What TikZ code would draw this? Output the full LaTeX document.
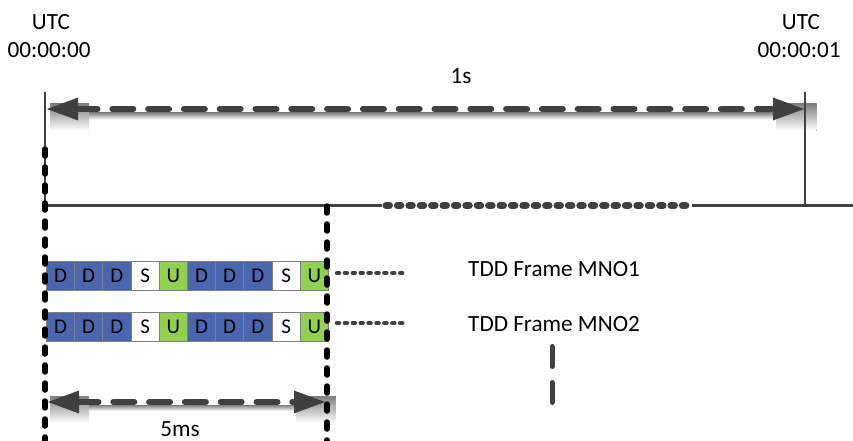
\documentclass[tikz,border=0pt]{standalone}
\usepackage{fontspec}
\setmainfont{Carlito}
\usetikzlibrary{arrows.meta}
\definecolor{axis}{HTML}{404040}
\definecolor{shade}{HTML}{C8C8C8}
\definecolor{dlslot}{HTML}{4A66AE}
\definecolor{ulslot}{HTML}{92D050}
\definecolor{cellrule}{HTML}{7F7F7F}

\begin{document}
\begin{tikzpicture}[x=1pt,y=-1pt,
  lbl/.style={font=\fontsize{23.2}{27}\selectfont, anchor=base, inner sep=0pt},
  lblleft/.style={lbl, anchor=base west},
  slot/.style={draw=cellrule, line width=0.8pt, minimum width=28.2pt,
    minimum height=29pt, inner sep=0pt, anchor=north west,
    font=\fontsize{21}{24}\selectfont},
  slotD/.style={slot, fill=dlslot},
  slotS/.style={slot, fill=white},
  slotU/.style={slot, fill=ulslot},
  axisline/.style={axis, line width=2.5pt},
  axisdots/.style={axis, line width=7pt, line cap=round, dash pattern=on 3.5pt off 7.9pt},
  framedots/.style={axis, line width=4.5pt, line cap=round, dash pattern=on 2pt off 5.9pt},
  boundary/.style={black, line width=5.5pt, line cap=round, dash pattern=on 7pt off 11pt},
  span/.style={axis, line width=6pt, line cap=round, dash pattern=on 21pt off 14.8pt,
    {Triangle[length=32pt,width=21pt]}-{Triangle[length=32pt,width=21pt]}},
  tick/.style={axis, line width=5pt, line cap=round},
]
\useasboundingbox (0,0) rectangle (853,441);

% key points of the time axis
\coordinate (t0top) at (45,92);
\coordinate (t0) at (45,205.5);
\coordinate (t1top) at (805,92);
\coordinate (t1) at (805,205.5);
\coordinate (axend) at (853,205.5);
\coordinate (gap0) at (382,205.5);
\coordinate (dot0) at (386,205.5);
\coordinate (dot1) at (688,205.5);
\coordinate (gap1) at (692,205.5);

% labels
\node[lbl] (utc0) at (51,30) {UTC};
\node[lbl] (time0) at (49,58) {00:00:00};
\node[lbl] (utc1) at (801,30) {UTC};
\node[lbl] (time1) at (799,58) {00:00:01};
\node[lbl] (onesec) at (461,84) {1s};

% soft shading under the 1 s span
\fill[shade] (50,104) rectangle (89,130.7);
\fill[shade] (776.7,104) rectangle (816.7,130.7);
\fill[shade] (89,112.5) rectangle (776.7,119.5);

% soft shading under the 5 ms span
\fill[shade] (50,396) rectangle (89,423);
\fill[shade] (296.7,396) rectangle (335.7,423);
\fill[shade] (89,405) rectangle (296.7,411);

% time axis
\draw[axisline] (t0top) -- (t0);
\draw[axisline] (t1top) -- (t1);
\draw[axisline] (t0) -- (gap0);
\draw[axisdots] (dot0) -- (dot1);
\draw[axisline] (gap1) -- (axend);

% 1 s span
\coordinate (s0) at (46,109);
\coordinate (s1) at (805,109);
\draw[span] (s0) -- (s1);

% two TDD frames of ten slots each
\foreach \r/\y in {1/261,2/312}{
  \foreach \k/\t [count=\i from 0] in {D/D,D/D,D/D,S/S,U/U,D/D,D/D,D/D,S/S,U/U}{
    \node[slot\k] (r\r c\i) at ({46+28.2*\i},\y) {\t};
  }
}

% frames continue
\coordinate (f1a) at (337,273);
\coordinate (f1b) at (404,273);
\coordinate (f2a) at (337,323);
\coordinate (f2b) at (404,323);
\draw[framedots] (f1a) -- (f1b);
\draw[framedots] (f2a) -- (f2b);

\node[lblleft] (mno1) at (468,276.7) {TDD Frame MNO1};
\node[lblleft] (mno2) at (468,331.7) {TDD Frame MNO2};

% more operators below
\coordinate (v0) at (552,346.5);
\coordinate (v1) at (552,366.5);
\coordinate (v2) at (552,382.5);
\coordinate (v3) at (552,402.5);
\draw[tick] (v0) -- (v1);
\draw[tick] (v2) -- (v3);

% 5 ms frame boundaries
\coordinate (b0top) at (45,149);
\coordinate (b0bot) at (45,448);
\coordinate (b1top) at (327,206);
\coordinate (b1bot) at (327,448);
\draw[boundary] (b0top) -- (b0bot);
\draw[boundary] (b1top) -- (b1bot);

% 5 ms span
\coordinate (m0) at (47,402);
\coordinate (m1) at (326,402);
\draw[span] (m0) -- (m1);
\node[lbl] (fivems) at (180,436.5) {5ms};
\end{tikzpicture}
\end{document}
